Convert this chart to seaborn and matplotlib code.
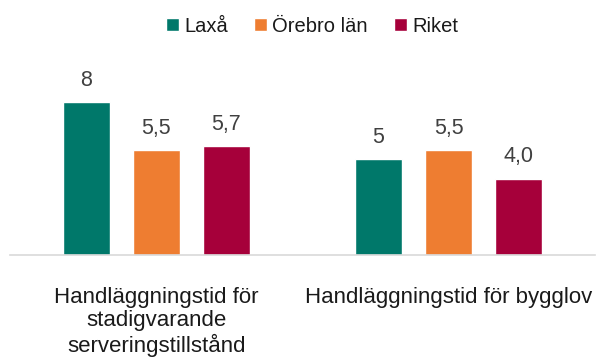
import matplotlib
matplotlib.use("Agg")
import matplotlib.pyplot as plt
import seaborn as sns
import pandas as pd

# Handling times, as published (decimal comma)
categories = ["Handläggningstid för\nstadigvarande\nserveringstillstånd",
              "Handläggningstid för bygglov"]
series = ["Laxå", "Örebro län", "Riket"]
laxa = ["8", "5"]
orebro = ["5,5", "5,5"]
riket = ["5,7", "4,0"]
colors = ["#00786A", "#EE7D31", "#A6003A"]

rows = []
for name, vals in zip(series, [laxa, orebro, riket]):
    for cat, txt in zip(categories, vals):
        rows.append({"kategori": cat, "serie": name, "text": txt,
                     "värde": float(txt.replace(",", "."))})
df = pd.DataFrame(rows)

sns.set_theme(style="white")
plt.rcParams["font.family"] = ["Liberation Sans", "DejaVu Sans"]

fig = plt.figure(figsize=(5.96, 3.58), dpi=100)
ax = fig.add_axes([10 / 596, 1 - 255 / 358, 585 / 596, 191.25 / 358])

sns.barplot(data=df, x="kategori", y="värde", hue="serie",
            hue_order=series, order=categories, palette=colors,
            width=0.72, gap=0.33, ax=ax, legend=True, saturation=1)

for cont, name in zip(ax.containers, series):
    texts = df[df["serie"] == name]["text"].tolist()
    ax.bar_label(cont, labels=texts, padding=8, fontsize=15.5, color="#404040")

ax.set_ylim(0, 10)
ax.set_xlim(-0.5, 1.5)
ax.set_xlabel("")
ax.set_ylabel("")
ax.set_yticks([])
for s in ["top", "right", "left"]:
    ax.spines[s].set_visible(False)
ax.spines["bottom"].set_color("#D9D9D9")
ax.spines["bottom"].set_linewidth(1.2)
ax.tick_params(axis="x", length=0, pad=23, labelsize=16, labelcolor="#1A1A1A")
for lbl in ax.get_xticklabels():
    lbl.set_linespacing(1.13)
    lbl.set_verticalalignment("top")

ax.legend(loc="center", bbox_to_anchor=(312 / 596, 1 - 26 / 358),
          bbox_transform=fig.transFigure, ncol=3, frameon=False,
          fontsize=14.5, handlelength=0.65, handleheight=0.65,
          handletextpad=0.25, columnspacing=1.3, labelcolor="#1A1A1A")

fig.savefig("out.png", dpi=100)
